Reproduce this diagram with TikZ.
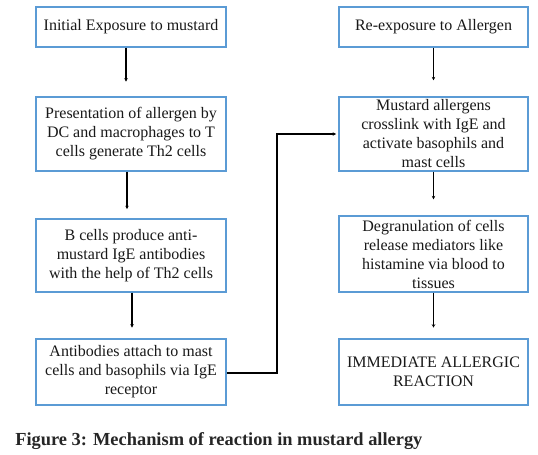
\documentclass[tikz,border=0pt]{standalone}
\usepackage{fontspec}
\setmainfont{Liberation Serif}
\usetikzlibrary{arrows.meta,calc}
\definecolor{boxblue}{RGB}{91,155,213}
\begin{document}
\begin{tikzpicture}[x=0.75pt,y=-0.75pt,
  flowbox/.style={draw=boxblue,line width=1.1pt,fill=white,align=center,
    inner sep=0pt,font=\fontsize{12pt}{14.25pt}\selectfont,text=black!90},
  lbox/.style={flowbox,minimum width=142.5pt},
  rbox/.style={flowbox,minimum width=142pt},
  arr/.style={draw=black,line width=0.9pt,-{Stealth[length=2.5pt,width=2.6pt]}}]
\useasboundingbox (0,0) rectangle (538,454);
% left column
\node[lbox,minimum height=30pt] (L1) at (131,27) {Initial Exposure to mustard};
\node[lbox,minimum height=55.5pt] (L2) at (131,134) {Presentation of allergen by\\DC and macrophages to T\\cells generate Th2 cells};
\node[lbox,minimum height=54.75pt] (L3) at (131,255.5) {B cells produce anti-\\mustard IgE antibodies\\with the help of Th2 cells};
\node[lbox,minimum height=49.5pt] (L4) at (131,372) {Antibodies attach to mast\\cells and basophils via IgE\\receptor};
% right column
\node[rbox,minimum height=30pt] (R1) at (433.5,27) {Re-exposure to Allergen};
\node[rbox,minimum height=55.5pt] (R2) at (433.5,134) {Mustard allergens\\crosslink with IgE and\\activate basophils and\\mast cells};
\node[rbox,minimum height=57pt] (R3) at (433.5,254) {Degranulation of cells\\release mediators like\\histamine via blood to\\tissues};
\node[rbox,minimum height=49.5pt] (R4) at (433.5,372) {IMMEDIATE ALLERGIC\\REACTION};
% connectors
\draw[arr,shorten >=11pt] ($(L1.south)+(-5,0)$) -- ($(L2.north)+(-5,0)$);
\draw[arr,shorten >=8pt] ($(L2.south)+(-4,0)$) -- ($(L2.south)+(-4,48)$);
\draw[arr,shorten >=8pt] ($(L3.south)+(1,0)$) -- ($(L4.north)+(1,0)$);
\draw[arr,shorten >=12pt] (R1) -- (R2);
\draw[arr,shorten >=12pt] (R2) -- (R3);
\draw[arr,shorten >=8pt] (R3) -- (R4);
\coordinate (turn) at (277,373);
\draw[arr,shorten >=1.5pt] (L4.east |- turn) -- (turn) |- (R2.west);
% caption
\node[anchor=base west,inner sep=0pt,font=\fontsize{13.8pt}{16pt}\selectfont\bfseries,text=black!85] (cap) at (15,445) {Figure 3: Mechanism of reaction in mustard allergy};
\end{tikzpicture}
\end{document}
